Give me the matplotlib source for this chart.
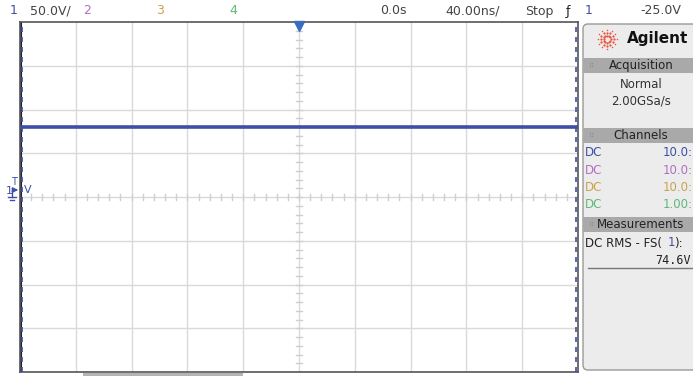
import numpy as np
import matplotlib.pyplot as plt
from matplotlib.patches import Rectangle, FancyBboxPatch

# scope settings
volts_per_div = 50.0
time_per_div = 40.0       # ns
n_xdiv, n_ydiv = 10, 8

# channel 1 trace (flat DC level)
trace_t = [-200.0, -100.0, 0.0, 100.0, 200.0]   # ns
trace_v = [80.0, 80.0, 80.0, 80.0, 80.0]        # V

channel_names = ['1', '2', '3', '4']
channel_colors = ['#3d4fa6', '#b16fc2', '#c9a24e', '#5fb877']
channel_coupling = ['DC', 'DC', 'DC', 'DC']
channel_scales = ['10.0:', '10.0:', '10.0:', '1.00:']
meas_label = 'DC RMS - FS('
meas_value = '74.6V'

W, H = 693, 376
fig = plt.figure(figsize=(W / 100, H / 100), dpi=100)
fig.patch.set_facecolor('white')

# main graticule
L, R, T, B = 20, 578, 22, 372
ax = fig.add_axes([L / W, 1 - B / H, (R - L) / W, (B - T) / H], zorder=1)
xmax = time_per_div * n_xdiv / 2
ymax = volts_per_div * n_ydiv / 2
ax.set_xlim(-xmax, xmax)
ax.set_ylim(-ymax, ymax)
ax.set_xticks([])
ax.set_yticks([])
for s in ax.spines.values():
    s.set_color('#555555')
    s.set_linewidth(1.2)
gc = '#dadada'
for i in range(1, n_xdiv):
    ax.axvline(-xmax + i * time_per_div, color=gc, lw=1, zorder=1)
for i in range(1, n_ydiv):
    ax.axhline(-ymax + i * volts_per_div, color=gc, lw=1, zorder=1)
# minor ticks on the centre crosshair
for x in np.arange(-xmax, xmax + 0.1, time_per_div / 5):
    ax.plot([x, x], [-3, 3], color='#cfcfcf', lw=1, zorder=1)
for y in np.arange(-ymax, ymax + 0.1, volts_per_div / 5):
    ax.plot([-2, 2], [y, y], color='#cfcfcf', lw=1, zorder=1)

# edge markers
ax.axvline(-xmax + 0.6, color='#222222', lw=1.5, zorder=2)
ax.axvline(-xmax + 1.2, color='#3d4fa6', lw=1.2, ls=(0, (3, 3)), zorder=3)
ax.axvline(xmax - 1.2, color='#3d4fa6', lw=1.2, ls=(0, (3, 3)), zorder=3)

# trace
ax.plot(trace_t, trace_v, color=channel_colors[0], lw=2.6, zorder=4)

# trigger position marker
ax.plot([0], [ymax - 4], marker='v', color='#3a6bc4', ms=7, clip_on=False, zorder=5)

# overlay in pixel coordinates for the screen furniture (on top, transparent)
ov = fig.add_axes([0, 0, 1, 1], zorder=3)
ov.set_xlim(0, W)
ov.set_ylim(H, 0)
ov.axis('off')
ov.patch.set_alpha(0)

# top status bar
fs = 9
ov.text(10, 11, channel_names[0], color=channel_colors[0], fontsize=fs, va='center')
ov.text(30, 11, '50.0V/', color='#444444', fontsize=fs, va='center')
ov.text(83, 11, channel_names[1], color=channel_colors[1], fontsize=fs, va='center')
ov.text(156, 11, channel_names[2], color=channel_colors[2], fontsize=fs, va='center')
ov.text(229, 11, channel_names[3], color=channel_colors[3], fontsize=fs, va='center')
ov.text(380, 11, '0.0s', color='#444444', fontsize=fs, va='center')
ov.text(445, 11, '40.00ns/', color='#444444', fontsize=fs, va='center')
ov.text(525, 11, 'Stop', color='#444444', fontsize=fs, va='center')
ov.text(566, 11, 'ƒ', color='#222222', fontsize=fs, va='center')
ov.text(585, 11, '1', color=channel_colors[0], fontsize=fs, va='center')
ov.text(640, 11, '-25.0V', color='#444444', fontsize=fs, va='center')

# channel 1 ground marker on the left
ov.text(6, 191, '1', color=channel_colors[0], fontsize=8, va='center')
ov.text(11, 182, 'T', color=channel_colors[0], fontsize=7, va='center')
ov.annotate('', xy=(21, 190), xytext=(12, 190),
            arrowprops=dict(arrowstyle='-|>', color=channel_colors[0], lw=1.2, mutation_scale=7))
ov.plot([12, 12], [191, 197], color=channel_colors[0], lw=1)
ov.plot([8, 16], [197, 197], color=channel_colors[0], lw=1)
ov.plot([10, 14], [199.5, 199.5], color=channel_colors[0], lw=1)
ov.text(24, 190, 'V', color=channel_colors[0], fontsize=8, va='center')

# scrollbar under the graticule
ov.add_patch(Rectangle((83, 373), 160, 4, color='#b4b4b4', lw=0))

# right-hand panel
ov.add_patch(FancyBboxPatch((583, 24), 115, 346, boxstyle='round,pad=0,rounding_size=5',
                            fc='#ececec', ec='#9a9a9a', lw=1))
# Agilent logo
cx, cy = 607, 39
for a in np.linspace(0, 2 * np.pi, 12, endpoint=False):
    for r in (3.5, 6.5, 9.5):
        ov.plot(cx + r * np.cos(a), cy + r * np.sin(a), 'o', color='#e8533a',
                ms=1.6 if r < 9 else 1.1, mew=0)
ov.text(627, 39, 'Agilent', color='#111111', fontsize=11, fontweight='bold', va='center')

def header(y0, label):
    ov.add_patch(Rectangle((583, y0), 112, 15, color='#a9a9a9', lw=0))
    ov.text(589, y0 + 7.5, '⠿', color='#8c8c8c', fontsize=5, va='center')
    ov.text(641, y0 + 7.5, label, color='#222222', fontsize=8.5, va='center', ha='center')

header(58, 'Acquisition')
ov.text(641, 84, 'Normal', color='#333333', fontsize=8.5, ha='center', va='center')
ov.text(641, 101, '2.00GSa/s', color='#333333', fontsize=8.5, ha='center', va='center')

header(128, 'Channels')
for i in range(4):
    y = 153 + i * 17.3
    ov.text(585, y, channel_coupling[i], color=channel_colors[i], fontsize=8.5, va='center')
    ov.text(693, y, channel_scales[i], color=channel_colors[i], fontsize=8.5, va='center', ha='right')

header(217, 'Measurements')
ov.text(585, 243, meas_label, color='#222222', fontsize=8.5, va='center')
ov.text(668, 243, '1', color=channel_colors[0], fontsize=8.5, va='center')
ov.text(674, 243, '):', color='#222222', fontsize=8.5, va='center')
ov.text(655, 260, meas_value, color='#222222', fontsize=8.5, va='center', family='DejaVu Sans Mono')
ov.plot([588, 693], [268, 268], color='#777777', lw=1)

fig.savefig('out.png', dpi=100)
